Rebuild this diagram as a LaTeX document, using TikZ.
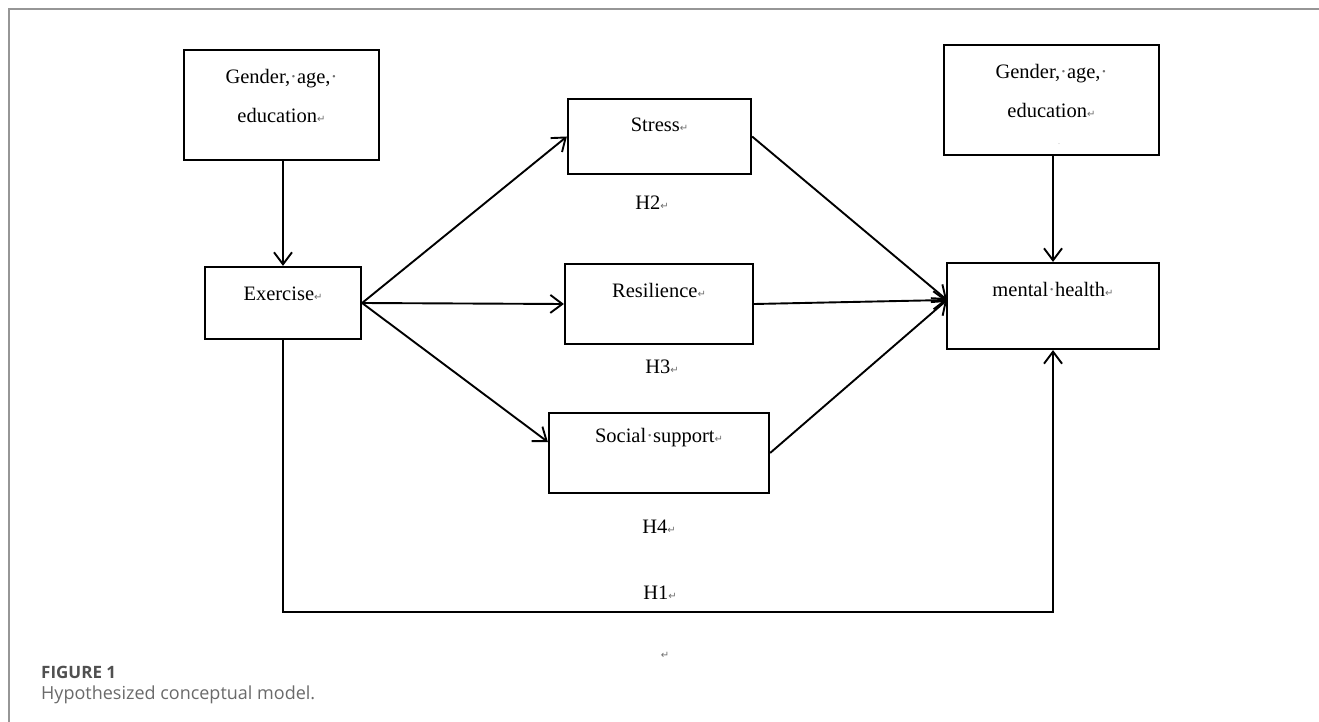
\documentclass[tikz,border=0pt]{standalone}
\usepackage{fontspec}
\setmainfont{Liberation Serif}
\newfontfamily\symfont{DejaVu Sans}
\newfontfamily\capfont{Open Sans}
\usetikzlibrary{arrows.meta}
\definecolor{markgray}{RGB}{110,110,110}
\definecolor{framegray}{RGB}{150,150,150}
\definecolor{capgray}{RGB}{80,80,80}
\newcommand\retmark{{\symfont\fontsize{10}{10}\selectfont\color{markgray}↵}}
\newcommand\spmark{{\color{markgray}·}}

\begin{document}
\begin{tikzpicture}[x=1pt,y=-1pt,
    box/.style={draw,line width=2.2pt,inner sep=0pt},
    lbl/.style={font=\fontsize{20.5}{39}\selectfont,align=center,inner sep=0pt},
    arr/.style={line width=1.9pt,-{Straight Barb[length=12pt,width=18pt]}},
    capline/.style={anchor=west,inner sep=0pt,text=capgray}]
    \useasboundingbox (0,0) rectangle (1319,722);
    \draw[framegray,line width=1.8pt] (9,722) -- (9,9) -- (1319,9);

    \node[box,minimum width=195pt,minimum height=110pt] (genderl) at (281.5,105) {};
    \node[box,minimum width=215pt,minimum height=110pt] (genderr) at (1051.5,100) {};
    \node[box,minimum width=156pt,minimum height=72pt] (exercise) at (283,303) {};
    \node[box,minimum width=183pt,minimum height=75pt] (stress) at (659.5,136.5) {};
    \node[box,minimum width=188pt,minimum height=80pt] (resil) at (659,304) {};
    \node[box,minimum width=220pt,minimum height=80pt] (social) at (659,453) {};
    \node[box,minimum width=212pt,minimum height=86pt] (mental) at (1053,306) {};

    \node[lbl] (tgenderl) at ([yshift=-47pt]genderl.north) {Gender,\spmark age,\spmark\\education\retmark};
    \node[lbl] (tgenderr) at ([yshift=-47pt]genderr.north) {Gender,\spmark age,\spmark\\education\retmark};
    \node[lbl] (texercise) at ([yshift=-28pt]exercise.north) {Exercise\retmark};
    \node[lbl] (tstress) at ([yshift=-27pt]stress.north) {Stress\retmark};
    \node[lbl] (tresil) at ([yshift=-28pt]resil.north) {Resilience\retmark};
    \node[lbl] (tsocial) at ([yshift=-26pt]social.north) {Social\spmark support\retmark};
    \node[lbl] (tmental) at ([yshift=-28pt]mental.north) {mental\spmark health\retmark};

    \foreach \h/\px/\py in {H2/652/203,H3/662/367,H4/659/527,H1/660/593}
        \node[lbl] (lbl\h) at (\px,\py) {\h\retmark};
    \node[inner sep=0pt] (stray) at (665,655) {\retmark};
    \node[inner sep=0pt,text=markgray,font=\fontsize{6}{6}\selectfont] (dot) at (1059,144) {.};

    \coordinate (mhin) at (947,300);
    \draw[arr] (genderl.south -| exercise.north) -- (exercise.north);
    \draw[arr] (genderr.south -| mental.north) -- (mental.north);
    \draw[arr] (exercise.east) -- (stress.west);
    \draw[arr] (exercise.east) -- (resil.west);
    \draw[arr] (exercise.east) -- ([yshift=11pt]social.west);
    \foreach \m in {stress,resil,social}
        \draw[arr] (\m.east) -- (mhin);
    \draw[arr] (exercise.south) -- ++(0,272) -| (mental.south);

    \node[capline,font=\capfont\bfseries\fontsize{17}{17}\selectfont] (figno) at (41,672) {FIGURE 1};
    \node[capline,font=\capfont\fontsize{18}{18}\selectfont,text=capgray!85] (figcap) at (41,695) {Hypothesized conceptual model.};
\end{tikzpicture}
\end{document}
